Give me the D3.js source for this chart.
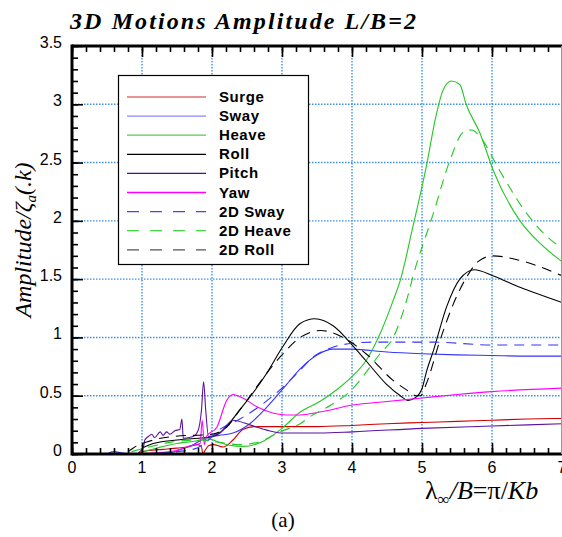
<!DOCTYPE html>
<html>
  <head>
    <title>3D Motions Amplitude</title>
    <script src="https://d3js.org/d3.v7.min.js"></script>
    <style>
      body { margin: 0; background: white; }
      svg { display: block; }
    </style>
  </head>
  <body>
    <script>
      // curves: [lambda/B, amplitude]
      const surge = [[0.95,0.01],[1.1,0.03],[1.3,0.04],[1.5,0.05],[1.64,0.06],[1.8,0.08],[1.85,0.06],[1.87,0.0],[1.9,0.03],[1.95,0.07],[2.02,0.08],[2.16,0.06],[2.3,0.12],[2.44,0.21],[2.6,0.235],[3.0,0.235],[3.5,0.235],[4.0,0.245],[4.5,0.26],[5.0,0.27],[5.5,0.28],[6.0,0.29],[6.5,0.3],[7.0,0.305]];
      const sway = [[0.5,0.0],[0.6,0.02],[0.7,0.01],[0.8,0.0],[1.4,0.01],[1.5,0.03],[1.7,0.07],[1.92,0.14],[2.1,0.16],[2.3,0.18],[2.54,0.26],[2.78,0.4],[3.07,0.6],[3.26,0.73],[3.5,0.85],[3.73,0.9],[4.0,0.9],[4.5,0.875],[5.0,0.86],[5.5,0.85],[6.0,0.845],[6.5,0.84],[7.0,0.84]];
      const heave = [[1.0,0.02],[1.2,0.05],[1.5,0.09],[1.75,0.11],[1.95,0.13],[2.1,0.1],[2.25,0.075],[2.44,0.065],[2.7,0.1],[3.0,0.22],[3.26,0.36],[3.54,0.45],[3.8,0.56],[4.01,0.67],[4.2,0.8],[4.37,0.99],[4.59,1.32],[4.69,1.49],[4.87,1.95],[5.06,2.46],[5.2,2.9],[5.3,3.12],[5.42,3.2],[5.54,3.17],[5.63,3.0],[5.83,2.75],[6.02,2.43],[6.4,2.0],[6.7,1.8],[7.0,1.65]];
      const roll = [[1.0,0.05],[1.16,0.09],[1.5,0.12],[2.01,0.15],[2.11,0.18],[2.4,0.38],[2.78,0.69],[3.01,0.92],[3.26,1.12],[3.47,1.16],[3.73,1.1],[4.01,0.93],[4.2,0.8],[4.49,0.6],[4.69,0.5],[4.8,0.46],[4.92,0.49],[5.0,0.56],[5.07,0.72],[5.16,0.88],[5.35,1.26],[5.54,1.5],[5.75,1.58],[6.01,1.53],[6.4,1.43],[7.0,1.3]];
      const pitch = [[0.95,0.01],[1.02,0.06],[1.04,0.12],[1.09,0.15],[1.14,0.17],[1.18,0.14],[1.26,0.19],[1.3,0.16],[1.35,0.19],[1.4,0.17],[1.47,0.2],[1.54,0.21],[1.57,0.3],[1.59,0.135],[1.73,0.15],[1.8,0.2],[1.85,0.38],[1.88,0.62],[1.91,0.38],[1.95,0.15],[2.11,0.18],[2.3,0.29],[2.54,0.25],[2.78,0.205],[3.01,0.18],[3.54,0.18],[4.01,0.19],[5.0,0.22],[6.0,0.24],[7.0,0.26]];
      const yaw = [[0.9,0.0],[1.2,0.01],[1.5,0.03],[1.69,0.07],[1.83,0.09],[1.86,0.29],[1.89,0.08],[1.92,0.15],[2.07,0.23],[2.21,0.46],[2.3,0.51],[2.44,0.48],[2.64,0.405],[2.88,0.35],[3.07,0.335],[3.26,0.335],[3.54,0.36],[4.01,0.42],[4.5,0.45],[5.0,0.48],[5.5,0.51],[6.0,0.535],[7.0,0.565]];
      const sway2d = [[1.0,0.0],[1.5,0.02],[1.78,0.05],[1.95,0.12],[2.11,0.21],[2.4,0.3],[2.68,0.41],[2.97,0.55],[3.26,0.72],[3.44,0.83],[3.7,0.91],[4.01,0.95],[4.3,0.96],[5.16,0.96],[6.0,0.935],[7.0,0.935]];
      const heave2d = [[0.85,0.02],[1.1,0.06],[1.4,0.1],[1.83,0.12],[2.1,0.1],[2.4,0.08],[2.7,0.11],[2.97,0.19],[3.26,0.26],[3.4,0.32],[3.7,0.42],[4.01,0.56],[4.2,0.7],[4.4,0.86],[4.59,1.0],[4.8,1.36],[4.87,1.52],[5.16,2.06],[5.4,2.52],[5.59,2.76],[5.71,2.78],[5.83,2.72],[6.11,2.43],[6.5,2.06],[6.92,1.8],[7.0,1.77]];
      const roll2d = [[0.8,0.02],[0.87,0.05],[1.16,0.12],[1.44,0.15],[2.0,0.17],[2.21,0.23],[2.4,0.38],[2.97,0.83],[3.26,1.0],[3.44,1.05],[3.55,1.06],[3.87,1.0],[4.2,0.86],[4.59,0.63],[4.78,0.55],[4.92,0.5],[4.98,0.5],[5.06,0.6],[5.26,0.98],[5.45,1.29],[5.64,1.52],[5.8,1.65],[6.01,1.7],[6.4,1.66],[7.0,1.53]];

      const names = ['Surge', 'Sway', 'Heave', 'Roll', 'Pitch', 'Yaw', '2D Sway', '2D Heave', '2D Roll'];
      const seriesData = [surge, sway, heave, roll, pitch, yaw, sway2d, heave2d, roll2d];
      const colors = ['#d40000', '#3535ff', '#22c822', '#000000', '#5a14a0', '#ff00ff', '#3535ff', '#22c822', '#000000'];
      const legendColors = ['#e07070', '#8888ff', '#55cc55', '#000000', '#4a1090', '#ff00ff', '#4444ff', '#44dd44', '#555555'];
      const dashed = [false, false, false, false, false, false, true, true, true];

      const xTicks = [0, 1, 2, 3, 4, 5, 6, 7];
      const yTicks = [0, 0.5, 1, 1.5, 2, 2.5, 3, 3.5];

      const W = 562, H = 537;
      const mLeft = 72, mRight = 562, mTop = 46, mBottom = 454;

      const x = d3.scaleLinear().domain([0, 7]).range([mLeft, mRight]);
      const y = d3.scaleLinear().domain([0, 3.5]).range([mBottom, mTop]);

      const svg = d3.select('body').append('svg')
                    .attr('width', W)
                    .attr('height', H);

      svg.append('defs').append('clipPath').attr('id', 'plot')
         .append('rect')
         .attr('x', mLeft).attr('y', mTop)
         .attr('width', mRight - mLeft).attr('height', mBottom - mTop);

      // dotted grid
      const grid = svg.append('g')
                      .attr('stroke', '#3b8fe8')
                      .attr('stroke-width', 1.4)
                      .attr('stroke-dasharray', '1.5,1.5');
      grid.selectAll('line.gx')
          .data(xTicks.slice(1, -1))
          .enter().append('line')
          .attr('class', 'gx')
          .attr('x1', d => x(d)).attr('x2', d => x(d))
          .attr('y1', mTop).attr('y2', mBottom);
      grid.selectAll('line.gy')
          .data(yTicks.slice(1, -1))
          .enter().append('line')
          .attr('class', 'gy')
          .attr('x1', mLeft).attr('x2', mRight)
          .attr('y1', d => y(d)).attr('y2', d => y(d));

      // curves
      const line = d3.line()
                     .x(d => x(d[0]))
                     .y(d => y(d[1]))
                     .curve(d3.curveMonotoneX);

      svg.append('g')
         .attr('clip-path', 'url(#plot)')
         .selectAll('path')
         .data(seriesData)
         .enter().append('path')
         .attr('d', line)
         .attr('fill', 'none')
         .attr('stroke', (d, i) => colors[i])
         .attr('stroke-width', 1.1)
         .attr('stroke-dasharray', (d, i) => dashed[i] ? '10,7' : null);

      // axes: ticks point inward
      const minorX = d3.range(0, 7.01, 0.2);
      const minorY = d3.range(0, 3.51, 0.1);

      svg.append('g')
         .attr('transform', `translate(0,${mBottom})`)
         .call(d3.axisBottom(x).tickValues(xTicks).tickSize(-11).tickFormat(''))
         .call(g => g.select('.domain').remove());
      svg.append('g')
         .attr('transform', `translate(0,${mBottom})`)
         .call(d3.axisBottom(x).tickValues(minorX).tickSize(-6).tickFormat(''))
         .call(g => g.select('.domain').remove());
      svg.append('g')
         .attr('transform', `translate(0,${mTop})`)
         .call(d3.axisTop(x).tickValues(xTicks).tickSize(-11).tickFormat(''))
         .call(g => g.select('.domain').remove());
      svg.append('g')
         .attr('transform', `translate(0,${mTop})`)
         .call(d3.axisTop(x).tickValues(minorX).tickSize(-6).tickFormat(''))
         .call(g => g.select('.domain').remove());
      svg.append('g')
         .attr('transform', `translate(${mLeft},0)`)
         .call(d3.axisLeft(y).tickValues(yTicks).tickSize(-11).tickFormat(''))
         .call(g => g.select('.domain').remove());
      svg.append('g')
         .attr('transform', `translate(${mLeft},0)`)
         .call(d3.axisLeft(y).tickValues(minorY).tickSize(-6).tickFormat(''))
         .call(g => g.select('.domain').remove());
      svg.selectAll('.tick line').attr('stroke', '#000').attr('stroke-width', 1.6);

      // frame
      svg.append('line').attr('x1', mLeft).attr('x2', mRight).attr('y1', mBottom).attr('y2', mBottom)
         .attr('stroke', '#000').attr('stroke-width', 3);
      svg.append('line').attr('x1', mLeft).attr('x2', mRight).attr('y1', mTop).attr('y2', mTop)
         .attr('stroke', '#000').attr('stroke-width', 3);
      svg.append('line').attr('x1', mLeft).attr('x2', mLeft).attr('y1', mTop - 1.5).attr('y2', mBottom + 1.5)
         .attr('stroke', '#000').attr('stroke-width', 3);
      svg.append('line').attr('x1', mRight - 0.5).attr('x2', mRight - 0.5).attr('y1', mTop).attr('y2', mBottom)
         .attr('stroke', '#999').attr('stroke-width', 1);

      // tick labels
      svg.append('g').selectAll('text')
         .data(xTicks)
         .enter().append('text')
         .attr('x', d => x(d))
         .attr('y', mBottom + 19)
         .attr('text-anchor', 'middle')
         .style('font', '16px "Liberation Sans", Arial, sans-serif')
         .text(d => d);
      svg.append('g').selectAll('text')
         .data(yTicks)
         .enter().append('text')
         .attr('x', mLeft - 10)
         .attr('y', d => y(d) + 2)
         .attr('text-anchor', 'end')
         .style('font', '16px "Liberation Sans", Arial, sans-serif')
         .text(d => d);

      // title and axis titles
      svg.append('text')
         .attr('x', 70).attr('y', 29)
         .style('font', 'italic bold 24px "Liberation Serif", "Times New Roman", serif')
         .style('letter-spacing', '2.1px')
         .text('3D Motions Amplitude L/B=2');

      const yl = svg.append('text')
                    .attr('transform', 'translate(31,240) rotate(-90)')
                    .attr('text-anchor', 'middle')
                    .style('font', 'italic 24px "Liberation Serif", "Times New Roman", serif');
      yl.append('tspan').text('Amplitude/ζ');
      yl.append('tspan').attr('dy', 5).style('font-size', '15px').text('a');
      yl.append('tspan').attr('dy', -5).text('(.k)');

      const xl = svg.append('text')
                    .attr('x', 425).attr('y', 499)
                    .style('font', '26px "Liberation Serif", "Times New Roman", serif');
      xl.append('tspan').text('λ');
      xl.append('tspan').attr('dy', 6).style('font-size', '17px').text('∞');
      xl.append('tspan').attr('dy', -6).style('font-style', 'italic').text('/B');
      xl.append('tspan').text('=π/');
      xl.append('tspan').style('font-style', 'italic').text('Kb');

      svg.append('text')
         .attr('x', 283).attr('y', 527)
         .attr('text-anchor', 'middle')
         .style('font', '21px "Liberation Serif", "Times New Roman", serif')
         .text('(a)');

      // legend
      const legend = svg.append('g');
      legend.append('rect')
            .attr('x', 118.5).attr('y', 75.5)
            .attr('width', 190).attr('height', 189)
            .attr('fill', 'white')
            .attr('stroke', '#000')
            .attr('stroke-width', 1.2);
      const rows = legend.selectAll('g.row')
                         .data(names)
                         .enter().append('g')
                         .attr('class', 'row')
                         .attr('transform', (d, i) => `translate(0,${97 + i * 19.1})`);
      rows.append('line')
          .attr('x1', 127).attr('x2', 206)
          .attr('stroke', (d, i) => legendColors[i])
          .attr('stroke-width', 1.3)
          .attr('stroke-dasharray', (d, i) => dashed[i] ? '12,11' : null);
      rows.append('text')
          .attr('x', 219).attr('y', 5)
          .style('font', 'bold 15px "Liberation Sans", Arial, sans-serif')
          .style('letter-spacing', '0.6px')
          .text(d => d);
    </script>
  </body>
</html>
